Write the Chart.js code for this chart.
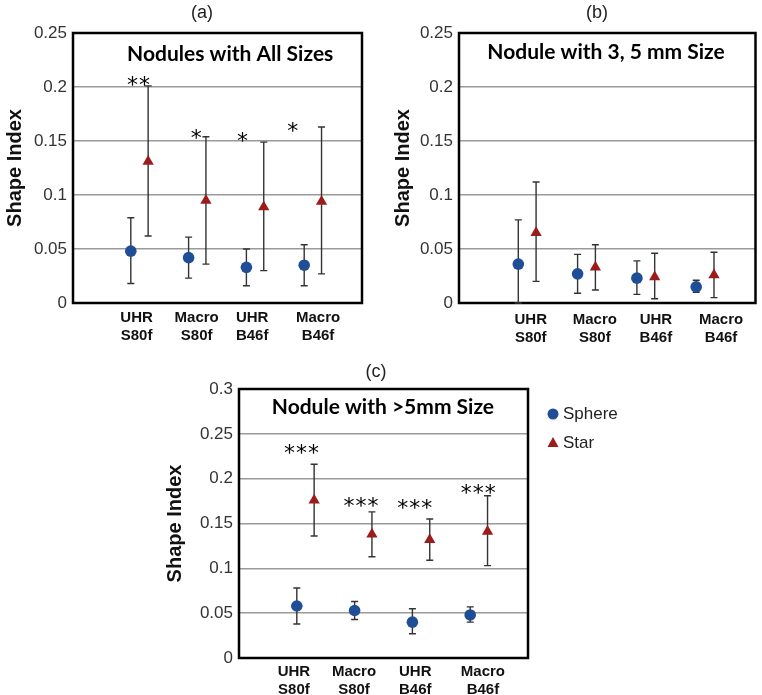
<!DOCTYPE html>
<html>
<head>
<meta charset="utf-8">
<script src="https://cdn.jsdelivr.net/npm/chart.js@4.4.0/dist/chart.umd.min.js"></script>
<style>
  body { margin: 0; background: #fff; }
  #wrap { position: relative; width: 762px; height: 695px; }
  canvas { position: absolute; }
</style>
</head>
<body>
<div id="wrap">
  <canvas id="chartA" width="380" height="345" style="left:0px;top:0px;width:380px;height:345px"></canvas>
  <canvas id="chartB" width="382" height="345" style="left:380px;top:0px;width:382px;height:345px"></canvas>
  <canvas id="chartC" width="480" height="350" style="left:150px;top:345px;width:480px;height:350px"></canvas>
</div>
<script>
// categories (reconstruction kernels) and x slots of the two series
const catLabels = [['UHR', 'S80f'], ['Macro', 'S80f'], ['UHR', 'B46f'], ['Macro', 'B46f']];
const sphereX = [1, 2, 3, 4];
const starX = [1.3, 2.3, 3.3, 4.3];

// (a) all sizes
const aSphere   = [0.048, 0.042, 0.033, 0.035];
const aSphereHi = [0.079, 0.061, 0.050, 0.054];
const aSphereLo = [0.018, 0.023, 0.016, 0.016];
const aStar     = [0.131, 0.095, 0.089, 0.094];
const aStarHi   = [0.201, 0.154, 0.149, 0.163];
const aStarLo   = [0.062, 0.036, 0.030, 0.027];
const aSig      = ['**', '*', '*', '*'];

// (b) 3, 5 mm
const bSphere   = [0.036, 0.027, 0.023, 0.015];
const bSphereHi = [0.077, 0.045, 0.039, 0.021];
const bSphereLo = [0.000, 0.009, 0.008, 0.010];
const bStar     = [0.065, 0.033, 0.024, 0.026];
const bStarHi   = [0.112, 0.054, 0.046, 0.047];
const bStarLo   = [0.020, 0.012, 0.004, 0.005];
const bSig      = [];

// (c) > 5 mm
const cSphere   = [0.058, 0.053, 0.040, 0.048];
const cSphereHi = [0.078, 0.063, 0.055, 0.057];
const cSphereLo = [0.038, 0.043, 0.027, 0.040];
const cStar     = [0.176, 0.138, 0.132, 0.141];
const cStarHi   = [0.216, 0.163, 0.155, 0.181];
const cStarLo   = [0.136, 0.113, 0.109, 0.103];
const cSig      = ['***', '***', '***', '***'];

const BLUE = '#1f4e96';
const RED = '#9c1c1c';

function toPoints(xs, ys) {
    return xs.map((x, i) => ({ x: x, y: ys[i] }));
}

function makePanel(id, cfg) {
    // draws frame, error bars, panel text, stars and (optionally) the legend
    const extras = {
        id: 'extras',
        beforeDatasetsDraw(chart) {
            const ctx = chart.ctx;
            const a = chart.chartArea;
            const ys = chart.scales.y;
            ctx.save();
            ctx.strokeStyle = '#000';
            ctx.lineWidth = 2.5;
            ctx.strokeRect(a.left, a.top, a.right - a.left, a.bottom - a.top);

            ctx.strokeStyle = '#333';
            ctx.lineWidth = 1.4;
            chart.data.datasets.forEach((ds, di) => {
                chart.getDatasetMeta(di).data.forEach((pt, i) => {
                    const hi = ys.getPixelForValue(ds.errHi[i]);
                    const lo = ys.getPixelForValue(ds.errLo[i]);
                    ctx.beginPath();
                    ctx.moveTo(pt.x, hi); ctx.lineTo(pt.x, lo);
                    ctx.moveTo(pt.x - 3.5, hi); ctx.lineTo(pt.x + 3.5, hi);
                    ctx.moveTo(pt.x - 3.5, lo); ctx.lineTo(pt.x + 3.5, lo);
                    ctx.stroke();
                });
            });
            ctx.restore();
        },
        afterDatasetsDraw(chart) {
            const ctx = chart.ctx;
            const a = chart.chartArea;
            const xs = chart.scales.x, ys = chart.scales.y;
            ctx.save();
            // inner title
            ctx.fillStyle = '#000';
            ctx.font = 'bold 21px Lato';
            ctx.textAlign = 'center';
            ctx.textBaseline = 'middle';
            ctx.fillText(cfg.title, xs.getPixelForValue(cfg.titleAt[0]), ys.getPixelForValue(cfg.titleAt[1]));

            // panel letter
            ctx.fillStyle = '#222';
            ctx.font = '18px "Liberation Sans"';
            ctx.fillText(cfg.letter, cfg.letterAt[0], cfg.letterAt[1]);

            // significance stars
            ctx.fillStyle = '#000';
            ctx.font = '22px "DejaVu Sans"';
            ctx.letterSpacing = '1px';
            ctx.textBaseline = 'alphabetic';
            cfg.sig.forEach((s, i) => {
                const p = cfg.sigAt[i];
                ctx.fillText(s, xs.getPixelForValue(p[0]), ys.getPixelForValue(p[1]) + 13);
            });
            ctx.letterSpacing = '0px';

            if (cfg.legend) {
                const lx = a.right + 25;
                const ly = a.top + 25;
                ctx.fillStyle = BLUE;
                ctx.beginPath();
                ctx.arc(lx, ly, 5.5, 0, Math.PI * 2);
                ctx.fill();
                ctx.fillStyle = RED;
                ctx.beginPath();
                ctx.moveTo(lx, ly + 23);
                ctx.lineTo(lx + 5.5, ly + 33);
                ctx.lineTo(lx - 5.5, ly + 33);
                ctx.closePath();
                ctx.fill();
                ctx.fillStyle = '#222';
                ctx.font = '17px "Liberation Sans"';
                ctx.textAlign = 'left';
                ctx.textBaseline = 'middle';
                ctx.fillText('Sphere', lx + 10, ly);
                ctx.fillText('Star', lx + 10, ly + 29);
            }
            ctx.restore();
        }
    };

    const ctx = document.getElementById(id).getContext('2d');
    return new Chart(ctx, {
        type: 'scatter',
        data: {
            datasets: [
                {
                    label: 'Sphere',
                    data: toPoints(sphereX, cfg.sphere),
                    errHi: cfg.sphereHi,
                    errLo: cfg.sphereLo,
                    pointStyle: 'circle',
                    pointRadius: 5.8,
                    backgroundColor: BLUE,
                    borderColor: BLUE,
                    borderWidth: 0
                },
                {
                    label: 'Star',
                    data: toPoints(starX, cfg.star),
                    errHi: cfg.starHi,
                    errLo: cfg.starLo,
                    pointStyle: 'triangle',
                    pointRadius: 6.5,
                    backgroundColor: RED,
                    borderColor: RED,
                    borderWidth: 0
                }
            ]
        },
        options: {
            responsive: false,
            animation: false,
            events: [],
            layout: { padding: { top: cfg.padTop, right: cfg.padRight, left: 0, bottom: 0 } },
            plugins: {
                legend: { display: false },
                tooltip: { enabled: false }
            },
            scales: {
                x: {
                    type: 'linear',
                    min: 0,
                    max: 5,
                    grid: { display: false },
                    border: { display: false },
                    afterBuildTicks: (s) => { s.ticks = cfg.labelX.map(v => ({ value: v })); },
                    afterFit: (s) => { s.height = cfg.xAxisH; },
                    ticks: {
                        autoSkip: false,
                        maxRotation: 0,
                        padding: cfg.xPad,
                        color: '#111',
                        font: { family: 'Liberation Sans', size: 15, weight: 'bold', lineHeight: 1.18 },
                        callback: (v, i) => catLabels[i]
                    }
                },
                y: {
                    min: 0,
                    max: cfg.yMax,
                    border: { display: false },
                    grid: { color: '#9a9a9a', lineWidth: 1.5, drawTicks: false },
                    afterFit: (s) => { s.width = cfg.yAxisW; },
                    ticks: {
                        stepSize: 0.05,
                        padding: 6,
                        color: '#333',
                        font: { family: 'Liberation Sans', size: 17 },
                        callback: (v) => String(+v.toFixed(2))
                    },
                    title: {
                        display: true,
                        text: 'Shape Index',
                        color: '#111',
                        font: { family: 'Liberation Sans', size: 20, weight: 'bold' },
                        padding: { top: cfg.yTitlePad, bottom: 0 }
                    }
                }
            }
        },
        plugins: [extras]
    });
}

makePanel('chartA', {
    sphere: aSphere, sphereHi: aSphereHi, sphereLo: aSphereLo,
    star: aStar, starHi: aStarHi, starLo: aStarLo,
    sig: aSig, sigAt: [[1.14, 0.207], [2.14, 0.158], [2.94, 0.156], [3.81, 0.165]],
    yMax: 0.25, title: 'Nodules with All Sizes', titleAt: [2.72, 0.23],
    letter: '(a)', letterAt: [202, 13],
    labelX: [1.1, 2.14, 3.1, 4.24],
    padTop: 33, padRight: 18, yAxisW: 73, xAxisH: 42, xPad: -2, yTitlePad: 3
});

makePanel('chartB', {
    sphere: bSphere, sphereHi: bSphereHi, sphereLo: bSphereLo,
    star: bStar, starHi: bStarHi, starLo: bStarLo,
    sig: bSig, sigAt: [],
    yMax: 0.25, title: 'Nodule with 3, 5 mm Size', titleAt: [2.48, 0.232],
    letter: '(b)', letterAt: [217, 13],
    labelX: [1.21, 2.29, 3.32, 4.42],
    padTop: 33, padRight: 2, yAxisW: 79, xAxisH: 42, xPad: 0, yTitlePad: 11
});

makePanel('chartC', {
    sphere: cSphere, sphereHi: cSphereHi, sphereLo: cSphereLo,
    star: cStar, starHi: cStarHi, starLo: cStarLo,
    sig: cSig, sigAt: [[1.09, 0.235], [2.12, 0.176], [3.05, 0.174], [4.15, 0.191]],
    yMax: 0.3, title: 'Nodule with >5mm Size', titleAt: [2.49, 0.28],
    letter: '(c)', letterAt: [226, 27],
    labelX: [0.95, 1.99, 3.05, 4.22],
    padTop: 44, padRight: 102, yAxisW: 89, xAxisH: 37, xPad: -3, yTitlePad: 13,
    legend: true
});
</script>
</body>
</html>
